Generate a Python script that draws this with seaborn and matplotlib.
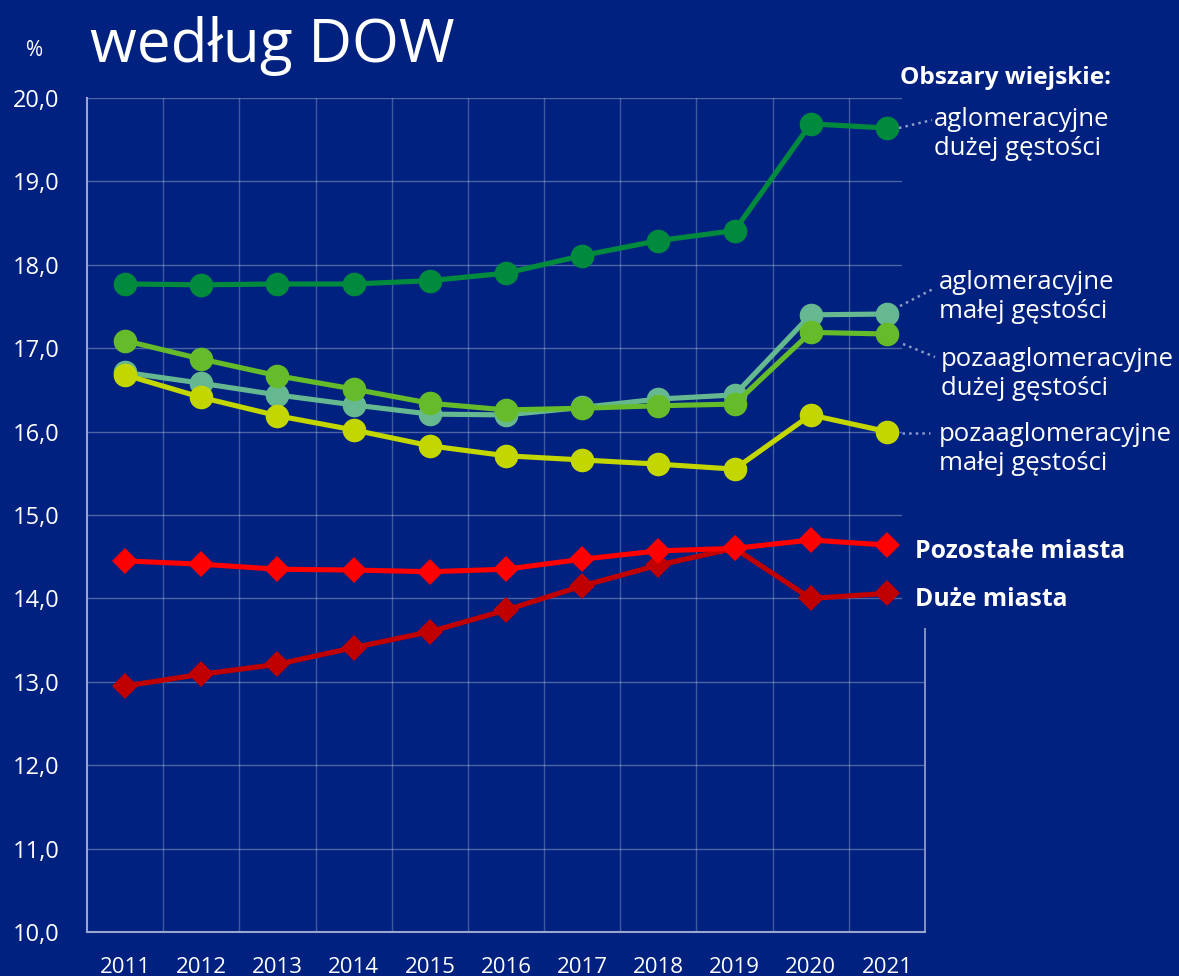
import numpy as np
import pandas as pd
import matplotlib
matplotlib.use("Agg")
import matplotlib.pyplot as plt
import seaborn as sns

lata = [2011, 2012, 2013, 2014, 2015, 2016, 2017, 2018, 2019, 2020, 2021]

aglo_duza = [17.77, 17.76, 17.77, 17.77, 17.81, 17.90, 18.11, 18.29, 18.41, 19.69, 19.64]
aglo_mala = [16.71, 16.58, 16.44, 16.32, 16.21, 16.20, 16.29, 16.39, 16.44, 17.40, 17.41]
poza_duza = [17.09, 16.87, 16.67, 16.51, 16.34, 16.26, 16.28, 16.31, 16.33, 17.19, 17.17]
poza_mala = [16.68, 16.41, 16.19, 16.02, 15.83, 15.71, 15.66, 15.61, 15.55, 16.20, 16.00]
pozostale = [14.45, 14.41, 14.35, 14.34, 14.32, 14.35, 14.47, 14.57, 14.60, 14.70, 14.64]
duze = [12.95, 13.09, 13.21, 13.41, 13.60, 13.86, 14.15, 14.40, 14.60, 14.00, 14.06]

y_ticks = [10, 11, 12, 13, 14, 15, 16, 17, 18, 19, 20]

bg = "#00217f"
sns.set_style("dark")
plt.rcParams["font.family"] = ["Open Sans", "DejaVu Sans"]

fig = plt.figure(figsize=(11.79, 9.76), dpi=100, facecolor=bg)
ax = fig.add_axes([87 / 1179, 1 - 932 / 976, (925 - 87) / 1179, (932 - 98) / 976])
ax.set_facecolor(bg)

# kolejnosc rysowania: teal pod spodem
serie = [
    (aglo_duza, "#008a3e", "o", 17),
    (aglo_mala, "#66b890", "o", 17),
    (poza_duza, "#66bb2a", "o", 17),
    (poza_mala, "#c4d600", "o", 17),
    (duze, "#c00000", "D", 13),
    (pozostale, "#ff0000", "D", 13),
]
for vals, kolor, mk, ms in serie:
    sns.lineplot(x=lata, y=vals, color=kolor, marker=mk, markersize=ms,
                 markeredgewidth=0, linewidth=3.7, ax=ax, zorder=5)

ax.set_xlim(2010.5, 2021.5)
ax.set_ylim(10, 20)
ax.set_xticks(lata)
ax.set_xticklabels([str(r) for r in lata])
ax.set_xticks(np.arange(2011.5, 2021.5, 1), minor=True)
ax.set_yticks(y_ticks)
ax.set_yticklabels([f"{v},0" for v in y_ticks])
ax.grid(False)
ax.grid(True, which="minor", axis="x", color="white", alpha=0.25, linewidth=1)
ax.grid(True, which="major", axis="y", color="white", alpha=0.3, linewidth=1)
ax.tick_params(axis="both", which="both", length=0, colors="white")
ax.tick_params(axis="x", pad=18, labelsize=16)
ax.tick_params(axis="y", pad=20, labelsize=17)
for s in ["top", "right"]:
    ax.spines[s].set_visible(False)
for s in ["left", "bottom"]:
    ax.spines[s].set_color("#9aa6d0")
    ax.spines[s].set_linewidth(1.5)
ax.set_xlabel("")
ax.set_ylabel("")

# prawa krawedz ramki tylko ponizej etykiet
ax.plot([2021.5, 2021.5], [10, 13.65], color="#9aa6d0", linewidth=1.2, clip_on=False)
# zasloniecie siatki pod etykietami
ax.add_patch(plt.Rectangle((2021.2, 13.65), 0.4, 6.5, facecolor=bg, edgecolor="none",
                           zorder=2, clip_on=False))

fig.text(90 / 1179, 1 - 62 / 976, "według DOW", color="white", fontsize=43.5,
         va="baseline")
fig.text(35 / 1179, 1 - 50 / 976, "%", color="white", fontsize=15, ha="center", va="center")

def px(x, y):
    return (x / 1179, 1 - y / 976)

fig.text(*px(1006, 78), "Obszary wiejskie:", color="white", fontsize=17.6,
         fontweight="bold", ha="center", va="center")
etykiety = [
    ("aglomeracyjne\ndużej gęstości", 934, 134, [(899, 128), (932, 120)]),
    ("aglomeracyjne\nmałej gęstości", 939, 297, [(900, 306), (935, 288)]),
    ("pozaaglomeracyjne\ndużej gęstości", 941, 374, [(903, 344), (935, 357)]),
    ("pozaaglomeracyjne\nmałej gęstości", 939, 449, [(902, 433), (930, 433)]),
]
for txt, x, y, ln in etykiety:
    fig.text(*px(x, y), txt, color="white", fontsize=18.5, ha="left", va="center",
             linespacing=1.25)
    (x0, y0), (x1, y1) = ln
    fig.add_artist(plt.Line2D([x0 / 1179, x1 / 1179], [1 - y0 / 976, 1 - y1 / 976],
                              color="#8e9ac8", linestyle=":", linewidth=1.8))

fig.text(*px(915, 551), "Pozostałe miasta", color="white", fontsize=17.8,
         fontweight="bold", ha="left", va="center")
fig.text(*px(915, 599), "Duże miasta", color="white", fontsize=17.8,
         fontweight="bold", ha="left", va="center")

fig.savefig("out.png", dpi=100, facecolor=bg)
